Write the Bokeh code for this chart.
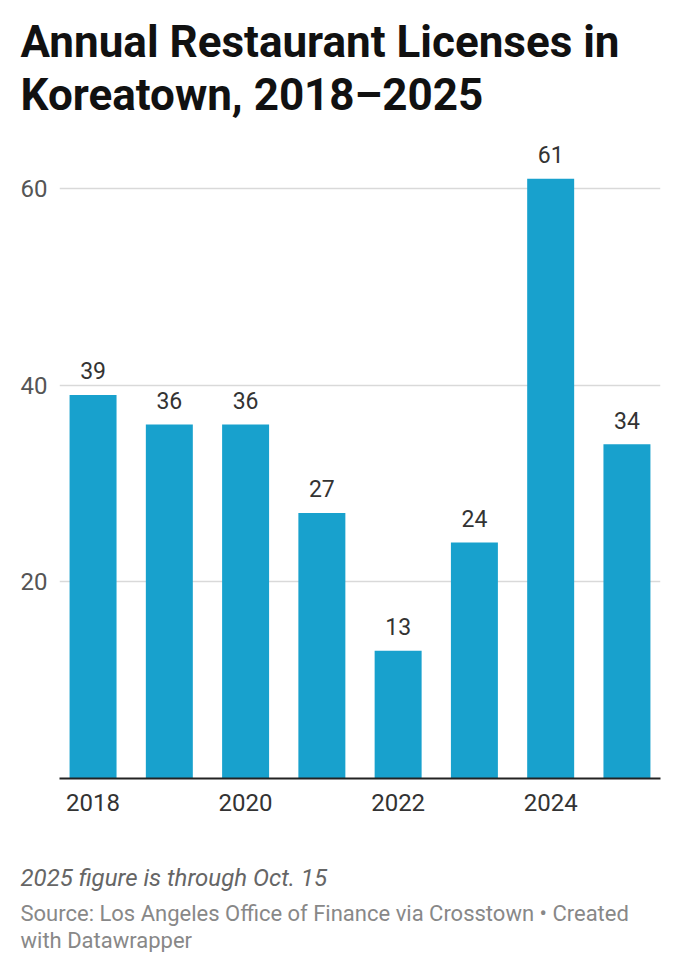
from bokeh.plotting import figure
from bokeh.models import Range1d, FixedTicker, Title, ColumnDataSource
from bokeh.core.properties import value
from bokeh.embed import file_html
from bokeh.resources import INLINE

years = [2018, 2019, 2020, 2021, 2022, 2023, 2024, 2025]
licenses = [39, 36, 36, 27, 13, 24, 61, 34]
x_tick_years = [2018, 2020, 2022, 2024]
y_ticks = [20, 40, 60]

title_lines = ["Annual Restaurant Licenses in", "Koreatown, 2018\u20132025"]
note_text = "2025 figure is through Oct. 15"
source_lines = ["Source: Los Angeles Office of Finance via Crosstown \u2022 Created",
                "with Datawrapper"]

FONT = "Roboto"
BAR = "#18a1cd"

src = ColumnDataSource(dict(x=years, top=licenses, label=[str(v) for v in licenses]))

p = figure(frame_width=601, frame_height=656,
           x_range=Range1d(2017.56, 2025.44), y_range=Range1d(0, 66.71),
           output_backend="svg", toolbar_location=None,
           min_border_left=59, min_border_right=12, min_border_top=122, min_border_bottom=0,
           background_fill_color="white", border_fill_color="white")
p.outline_line_color = None

p.vbar(x="x", top="top", width=0.616, bottom=0, source=src, color=BAR, line_color=None)
p.text(x="x", y="top", text="label", source=src, y_offset=-24,
       text_align="center", text_baseline="middle",
       text_font=value(FONT), text_font_size="23px", text_color="#333333")

p.xgrid.grid_line_color = None
p.ygrid.ticker = FixedTicker(ticks=y_ticks)
p.ygrid.grid_line_color = "#d9d9d9"
p.ygrid.grid_line_width = 1.5

p.yaxis.ticker = FixedTicker(ticks=y_ticks)
p.yaxis.axis_line_color = None
p.yaxis.major_tick_line_color = None
p.yaxis.minor_tick_line_color = None
p.yaxis.major_tick_out = 0
p.yaxis.minor_tick_out = 0
p.yaxis.major_label_text_font = FONT
p.yaxis.major_label_text_font_size = "24px"
p.yaxis.major_label_text_color = "#555555"
p.yaxis.major_label_standoff = 12

p.xaxis.ticker = FixedTicker(ticks=x_tick_years)
p.xaxis.axis_line_color = "#222222"
p.xaxis.axis_line_width = 2
p.xaxis.major_tick_line_color = None
p.xaxis.minor_tick_line_color = None
p.xaxis.major_tick_out = 0
p.xaxis.minor_tick_out = 0
p.xaxis.major_label_text_font = FONT
p.xaxis.major_label_text_font_size = "24px"
p.xaxis.major_label_text_color = "#333333"
p.xaxis.major_label_standoff = 15

# titles above: later-added sits farther from the plot
p.add_layout(Title(text=title_lines[1], text_font=FONT, text_font_size="44px",
                   text_font_style="bold", text_color="#111111", align="left",
                   offset=-39, standoff=3.6), "above")
p.add_layout(Title(text=title_lines[0], text_font=FONT, text_font_size="44px",
                   text_font_style="bold", text_color="#111111", align="left",
                   offset=-39, standoff=-6.6), "above")

# below: spacer, note, source lines (first-added sits closest to the plot)
p.add_layout(Title(text=" ", text_font=FONT, text_font_size="1px",
                   text_color="white", align="left", offset=0, standoff=38), "below")
p.add_layout(Title(text=note_text, text_font=FONT, text_font_size="24px",
                   text_font_style="italic", text_color="#666666", align="left",
                   offset=-39, standoff=14), "below")
p.add_layout(Title(text=source_lines[0], text_font=FONT, text_font_size="22px",
                   text_font_style="normal", text_color="#888888", align="left",
                   offset=-39, standoff=0), "below")
p.add_layout(Title(text=source_lines[1], text_font=FONT, text_font_size="22px",
                   text_font_style="normal", text_color="#888888", align="left",
                   offset=-39, standoff=0), "below")

open("out.html", "w").write(file_html(p, INLINE))
